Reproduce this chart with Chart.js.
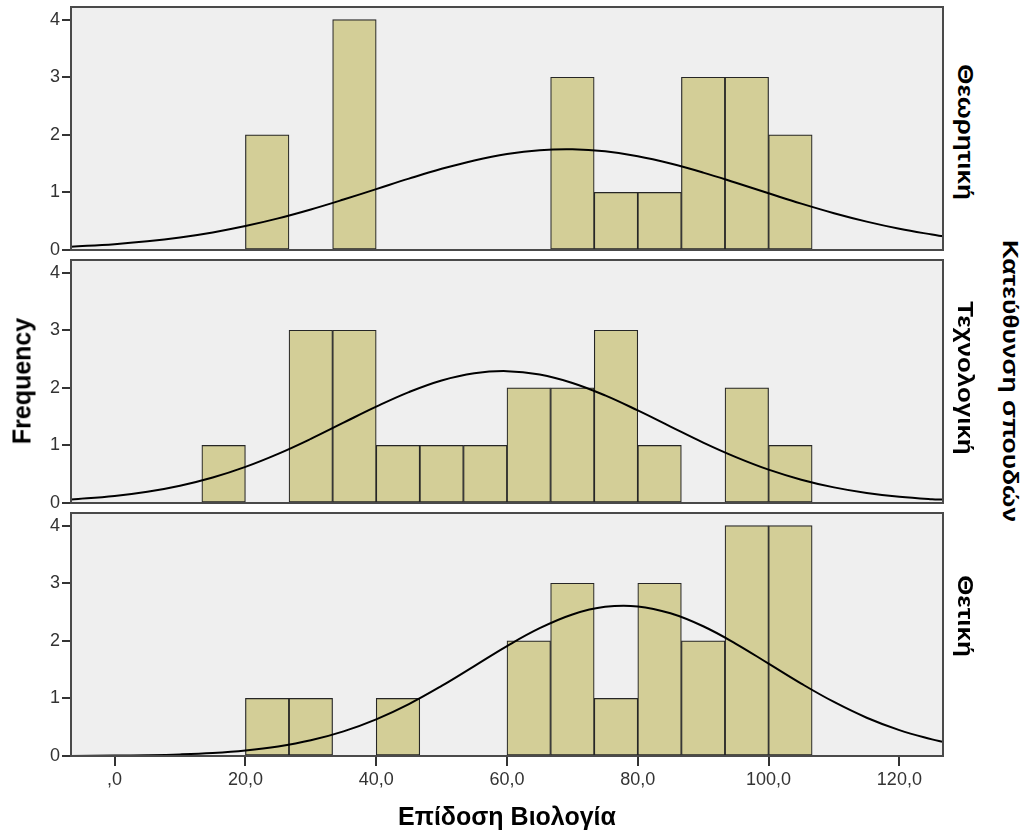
<!DOCTYPE html>
<html>
<head>
<meta charset="utf-8">
<script src="https://cdn.jsdelivr.net/npm/chart.js@4"></script>
<style>
  body { margin: 0; background: #fff; width: 1028px; height: 833px; position: relative; overflow: hidden; font-family: "Liberation Sans", Arial, sans-serif; }
  .panel { position: absolute; left: 0; width: 950px; }
  .lbl { position: absolute; white-space: nowrap; font-weight: bold; color: #000; transform-origin: center center; }
</style>
</head>
<body>
<div class="panel" style="top:0;height:260px"><canvas id="c1"></canvas></div>
<div class="panel" style="top:253px;height:260px"><canvas id="c2"></canvas></div>
<div class="panel" style="top:506px;height:300px"><canvas id="c3"></canvas></div>

<div class="lbl" id="ytitle" style="left:22px;top:381px;font-size:25px;transform:translate(-50%,-50%) rotate(-90deg)">Frequency</div>
<div class="lbl" id="xtitle" style="left:507px;top:816px;font-size:25px;transform:translate(-50%,-50%)">Επίδοση Βιολογία</div>
<div class="lbl" id="g1" style="left:965px;top:132px;font-size:22px;transform:translate(-50%,-50%) rotate(90deg) scaleX(1.18)"></div>
<div class="lbl" id="g2" style="left:965px;top:378px;font-size:22px;transform:translate(-50%,-50%) rotate(90deg) scaleX(1.18)"></div>
<div class="lbl" id="g3" style="left:965px;top:616px;font-size:22px;transform:translate(-50%,-50%) rotate(90deg) scaleX(1.18)"></div>
<div class="lbl" id="gtitle" style="left:1010px;top:381px;font-size:22px;transform:translate(-50%,-50%) rotate(90deg) scaleX(1.2)">Κατεύθυνση σπουδών</div>

<script>
// groups (right-hand panel labels)
const groups = ['Θεωρητική', 'Τεχνολογική', 'Θετική'];

// histogram bins (centres, width 6.67)
const binCenters = [16.67, 23.33, 30, 36.67, 43.33, 50, 56.67, 63.33, 70, 76.67, 83.33, 90, 96.67, 103.33];
const countsTheory = [0, 2, 0, 4, 0, 0, 0, 0, 3, 1, 1, 3, 3, 2];
const countsTech = [1, 0, 3, 3, 1, 1, 1, 2, 2, 3, 1, 0, 2, 1];
const countsPositive = [0, 1, 1, 0, 1, 0, 0, 2, 3, 1, 3, 2, 4, 4];

// normal curves
const curveX = [-6.67, 0, 5, 10, 15, 20, 25, 30, 35, 40, 45, 50, 55, 60, 65, 70, 75, 80, 85, 90, 95, 100, 105, 110, 115, 120, 125, 126.67];
const curveTheory = [0.057, 0.101, 0.151, 0.218, 0.305, 0.416, 0.549, 0.704, 0.876, 1.057, 1.239, 1.410, 1.556, 1.667, 1.733, 1.749, 1.713, 1.628, 1.501, 1.344, 1.167, 0.985, 0.805, 0.639, 0.493, 0.369, 0.268, 0.239];
const curveTech = [0.060, 0.121, 0.194, 0.300, 0.443, 0.628, 0.854, 1.114, 1.395, 1.673, 1.926, 2.128, 2.253, 2.290, 2.231, 2.085, 1.869, 1.607, 1.327, 1.049, 0.797, 0.579, 0.405, 0.271, 0.174, 0.107, 0.065, 0.06];
const curvePositive = [0.002, 0.007, 0.014, 0.028, 0.053, 0.096, 0.166, 0.273, 0.428, 0.637, 0.902, 1.217, 1.562, 1.909, 2.219, 2.458, 2.590, 2.598, 2.479, 2.253, 1.949, 1.604, 1.257, 0.938, 0.665, 0.450, 0.289, 0.247];

// axis ticks
const xTickValues = [0, 20, 40, 60, 80, 100, 120];
const xTickLabels = [',0', '20,0', '40,0', '60,0', '80,0', '100,0', '120,0'];
const yTickValues = [0, 1, 2, 3, 4];

groups.forEach((g, i) => { document.getElementById('g' + (i + 1)).textContent = g; });

// panel background + frame
const framePlugin = {
  id: 'frame',
  beforeDraw(chart) {
    const { ctx, chartArea: a } = chart;
    ctx.save();
    ctx.fillStyle = '#efefef';
    ctx.fillRect(a.left, a.top, a.right - a.left, a.bottom - a.top);
    ctx.restore();
  },
  afterDatasetsDraw(chart) {
    const { ctx, chartArea: a } = chart;
    ctx.save();
    ctx.strokeStyle = '#4a4a4a';
    ctx.lineWidth = 2;
    ctx.strokeRect(a.left, a.top, a.right - a.left, a.bottom - a.top);
    ctx.restore();
  }
};

function makePanel(id, counts, curve, showX) {
  const ctx = document.getElementById(id).getContext('2d');
  return new Chart(ctx, {
    type: 'bar',
    data: {
      datasets: [
        {
          type: 'line',
          data: curveX.map((x, k) => ({ x: x, y: curve[k] })),
          borderColor: '#000',
          borderWidth: 2,
          pointRadius: 0,
          tension: 0.4,
          fill: false,
          order: 0
        },
        {
          data: binCenters.map((x, k) => ({ x: x, y: counts[k] })),
          backgroundColor: '#d3ce97',
          borderColor: '#262626',
          borderWidth: 1.2,
          borderSkipped: false,
          barPercentage: 1,
          categoryPercentage: 1,
          order: 1
        }
      ]
    },
    options: {
      responsive: true,
      maintainAspectRatio: false,
      animation: false,
      layout: { padding: { top: 7, right: 7, bottom: showX ? 0 : 10, left: 0 } },
      plugins: { legend: { display: false }, tooltip: { enabled: false } },
      scales: {
        x: {
          type: 'linear',
          min: -6.67,
          max: 126.67,
          offset: false,
          display: showX,
          afterBuildTicks: (scale) => { scale.ticks = xTickValues.map(v => ({ value: v })); },
          afterFit: (scale) => {
            if (showX) scale.height = 50;
            scale.paddingLeft = 0;
            scale.paddingRight = 0;
          },
          grid: { display: true, offset: false, drawOnChartArea: false, drawTicks: true, tickLength: 10, color: '#333', lineWidth: 2 },
          border: { display: false },
          ticks: {
            padding: 3,
            maxRotation: 0,
            autoSkip: false,
            color: '#333',
            font: { family: '"Liberation Sans", Arial, sans-serif', size: 18 },
            callback: (v, idx) => xTickLabels[idx]
          }
        },
        y: {
          min: 0,
          max: 4.22,
          afterBuildTicks: (scale) => { scale.ticks = yTickValues.map(v => ({ value: v })); },
          afterFit: (scale) => {
            scale.width = 71;
            scale.paddingTop = 0;
            scale.paddingBottom = 0;
          },
          grid: { display: true, drawOnChartArea: false, drawTicks: true, tickLength: 9, color: '#333', lineWidth: 2 },
          border: { display: false },
          ticks: {
            padding: 2,
            color: '#333',
            font: { family: '"Liberation Sans", Arial, sans-serif', size: 18 }
          }
        }
      }
    },
    plugins: [framePlugin]
  });
}

makePanel('c1', countsTheory, curveTheory, false);
makePanel('c2', countsTech, curveTech, false);
makePanel('c3', countsPositive, curvePositive, true);
</script>
</body>
</html>
